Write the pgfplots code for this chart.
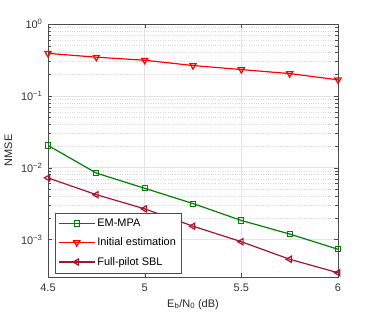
\documentclass[border=0pt]{standalone}
\usepackage{fontspec}
\setmainfont{Liberation Sans}
\usepackage{pgfplots}
\pgfplotsset{compat=1.18}
\definecolor{cgreen}{rgb}{0,0.5,0}
\definecolor{cdred}{rgb}{0.64,0.08,0.18}
\begin{document}
\begin{tikzpicture}[x=1bp,y=1bp]
\path[use as bounding box] (0,0) rectangle (374,321);
\begin{axis}[
  at={(48bp,44bp)}, anchor=south west,
  scale only axis, width=290bp, height=253bp,
  ymode=log, xmin=4.5, xmax=6, ymin=3e-4, ymax=1,
  xtick={4.5,5,5.5,6}, xticklabels={4.5,5,5.5,6},
  ytick={1e-3,1e-2,1e-1,1},
  yticklabels={10\textsuperscript{−3},10\textsuperscript{−2},10\textsuperscript{−1},10\textsuperscript{0}},
  tick align=inside,
  grid=both,
  xminorgrids=false,
  major grid style={draw=gray!22, line width=0.5pt},
  minor grid style={draw=gray!30, dotted, line width=0.4pt},
  axis line style={draw=black!70, line width=0.5pt},
  tick style={black!70},
  ticklabel style={font=\fontsize{11}{13}\selectfont, text=black!80},
  xticklabel style={yshift=-3bp},
  yticklabel style={xshift=-2bp},
  label style={font=\fontsize{11}{13}\selectfont, text=black!85},
  xlabel={E\textsubscript{b}/N\textsubscript{0} (dB)},
  ylabel={NMSE},
  xlabel style={yshift=-1bp},
  ylabel style={yshift=2bp},
  legend style={at={(0.024,0.016)}, anchor=south west, draw=black!70, fill=white,
    font=\fontsize{11}{13}\selectfont, row sep=6bp, inner xsep=3bp, inner ysep=4bp},
  legend cell align=left,
  legend image code/.code={\draw[mark=none] (0bp,0bp) -- (36bp,0bp);
    \begin{scope}[shift={(18bp,0bp)}]\draw[only marks] plot coordinates {(0bp,0bp)};\end{scope}},
  every axis plot/.append style={line width=1.2pt},
  mark options={solid, line width=0.9pt, fill=white},
]
\addplot[color=cgreen, mark=square, mark size=2.6] coordinates {
(4.5,0.0204) (4.75,0.0084) (5,0.00516) (5.25,0.00316) (5.5,0.00184) (5.75,0.00119) (6,0.00073)};
\addlegendentry{EM-MPA}
\addplot[color=red, mark=triangle, mark options={rotate=180}, mark size=3.6] coordinates {
(4.5,0.39) (4.75,0.345) (5,0.313) (5.25,0.264) (5.5,0.232) (5.75,0.204) (6,0.167)};
\addlegendentry{Initial estimation}
\addplot[color=cdred, mark=triangle, mark options={rotate=90}, mark size=3.6] coordinates {
(4.5,0.0072) (4.75,0.0042) (5,0.00267) (5.25,0.00153) (5.5,0.00093) (5.75,0.00053) (6,0.000344)};
\addlegendentry{Full-pilot SBL}
\end{axis}
\end{tikzpicture}
\end{document}
